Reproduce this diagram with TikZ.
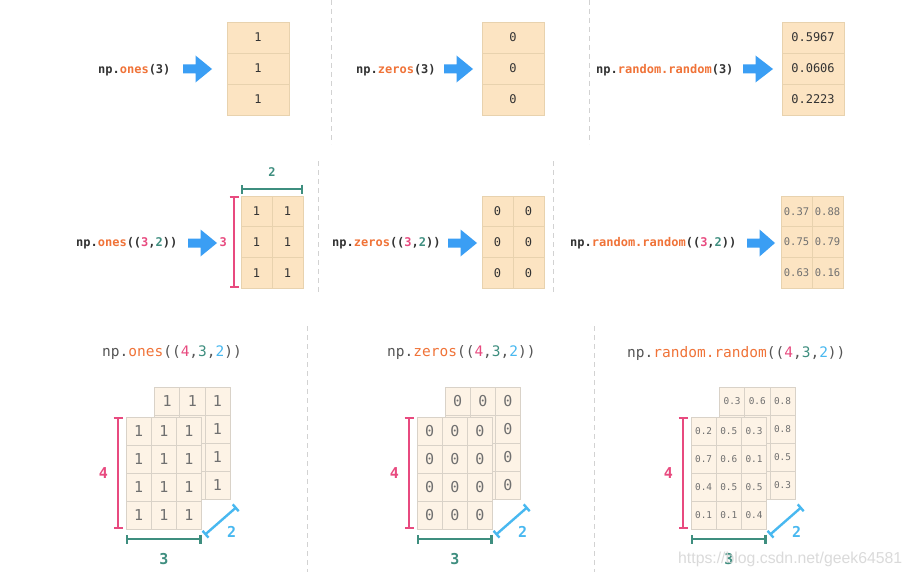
\documentclass[tikz,border=0pt]{standalone}
\usepackage{fontspec}
\setmainfont{Liberation Sans}
\setmonofont{DejaVu Sans Mono}
\usetikzlibrary{arrows.meta}
\definecolor{cellfill}{HTML}{FCE4C2}
\definecolor{cellline}{HTML}{E8D2AE}
\definecolor{cubefill}{HTML}{FDF3E6}
\definecolor{cubeline}{HTML}{D9D2C8}
\definecolor{darktext}{HTML}{333333}
\definecolor{graytext}{HTML}{555555}
\definecolor{celltext}{HTML}{707070}
\definecolor{fnorange}{HTML}{F07338}
\definecolor{dimpink}{HTML}{E84A7F}
\definecolor{dimteal}{HTML}{3E8E7F}
\definecolor{dimblue}{HTML}{48B8F0}
\definecolor{arrowblue}{HTML}{3A9EF4}
\definecolor{sepgray}{HTML}{D2D2D2}
\definecolor{wmgray}{HTML}{D4D4D4}

\newcommand{\fnname}[1]{\textcolor{fnorange}{#1}}
\newcommand{\cpink}[1]{\textcolor{dimpink}{#1}}
\newcommand{\cteal}[1]{\textcolor{dimteal}{#1}}
\newcommand{\cblue}[1]{\textcolor{dimblue}{#1}}

% #1 prefix, #2 x0, #3 y0, #4 cell width, #5 cell height, #6 style, #7 rows
\newcommand{\cellgrid}[7]{%
  \foreach \rw [count=\i] in {#7} {
    \foreach \v [count=\j] in \rw {
      \node[#6, minimum width=#4pt, minimum height=#5pt] (#1-\i-\j) at ({#2+(\j-1)*#4},{#3+(\i-1)*#5}) {\v};
    }
  }}

% block arrow: #1 x start, #2 x tip, #3 y centre
\newcommand{\bigarrow}[3]{%
  \fill[arrowblue] ({#1},{#3-4.5}) -- ({#1+12.5},{#3-4.5}) -- ({#1+12.5},{#3-13.5})
    -- ({#2},{#3}) -- ({#1+12.5},{#3+13.5}) -- ({#1+12.5},{#3+4.5}) -- ({#1},{#3+4.5}) -- cycle;}

\tikzset{
  code/.style={font=\ttfamily\bfseries\fontsize{12}{14}\selectfont, text=darktext, anchor=west, inner sep=0},
  bigcode/.style={font=\ttfamily\fontsize{14.5}{17}\selectfont, text=graytext, anchor=west, inner sep=0},
  cellA/.style={draw=cellline, fill=cellfill, anchor=north west, inner sep=0, outer sep=0, line width=0.8pt,
    font=\ttfamily\fontsize{12}{14}\selectfont, text=darktext},
  cellB/.style={cellA, font=\ttfamily\fontsize{10.5}{12}\selectfont, text=celltext},
  cubecell/.style={draw=cubeline, fill=cubefill, anchor=north west, inner sep=0, outer sep=0, line width=0.8pt,
    font=\ttfamily\fontsize{15}{17}\selectfont, text=celltext},
  cubesmall/.style={cubecell, font=\ttfamily\fontsize{9.4}{11}\selectfont},
  dimbar/.style={line width=2.4pt, draw=#1, {Bar[width=9pt]}-{Bar[width=9pt]}},
  dimlabel/.style={inner sep=0, font=\ttfamily\bfseries\fontsize{15}{17}\selectfont, text=#1},
  smalllabel/.style={inner sep=0, font=\ttfamily\bfseries\fontsize{12}{14}\selectfont, text=#1},
  sep/.style={draw=sepgray, line width=1pt, dash pattern=on 5pt off 4pt},
}

\begin{document}
\begin{tikzpicture}[x=1pt, y=-1pt]
\useasboundingbox (0,0) rectangle (910,578);
\fill[white] (0,0) rectangle (910,578);

% separators
\draw[sep] (331,0) -- (331,144);
\draw[sep] (589,0) -- (589,144);
\draw[sep] (318,161) -- (318,294);
\draw[sep] (553,161) -- (553,294);
\draw[sep] (307,326) -- (307,572);
\draw[sep] (594,326) -- (594,572);

% ---------- row 1 ----------
\node[code] (t11) at (98,70) {np.\fnname{ones}(3)};
\bigarrow{183}{212}{69}
\cellgrid{a11}{227}{22}{62}{31}{cellA}{{1},{1},{1}}

\node[code] (t12) at (356,70) {np.\fnname{zeros}(3)};
\bigarrow{444}{473}{69}
\cellgrid{a12}{482}{22}{62}{31}{cellA}{{0},{0},{0}}

\node[code] (t13) at (596,70) {np.\fnname{random.random}(3)};
\bigarrow{743}{773}{69}
\cellgrid{a13}{782}{22}{62}{31}{cellA}{{0.5967},{0.0606},{0.2223}}

% ---------- row 2 ----------
\node[code] (t21) at (76,243) {np.\fnname{ones}((\cpink{3},\cteal{2}))};
\bigarrow{188}{217}{243}
\cellgrid{a21}{241}{196}{31}{30.67}{cellA}{{1,1},{1,1},{1,1}}
\draw[dimbar=dimpink] ([xshift=-7pt]a21-1-1.north west) --
  node[midway, left=6pt, smalllabel=dimpink] (l21a) {3} ([xshift=-7pt]a21-3-1.south west);
\draw[dimbar=dimteal] ([yshift=7pt]a21-1-1.north west) --
  node[midway, above=11pt, smalllabel=dimteal] (l21b) {2} ([yshift=7pt]a21-1-2.north east);

\node[code] (t22) at (332,243) {np.\fnname{zeros}((\cpink{3},\cteal{2}))};
\bigarrow{448}{477}{243}
\cellgrid{a22}{482}{196}{31}{30.67}{cellA}{{0,0},{0,0},{0,0}}

\node[code] (t23) at (570,243) {np.\fnname{random.random}((\cpink{3},\cteal{2}))};
\bigarrow{747}{775}{243}
\cellgrid{a23}{781}{196}{31}{30.67}{cellB}{{0.37,0.88},{0.75,0.79},{0.63,0.16}}

% ---------- row 3 ----------
\node[bigcode] (t31) at (102,353) {np.\fnname{ones}((\cpink{4},\cteal{3},\cblue{2}))};
\cellgrid{c1b}{154.5}{387}{25.2}{28}{cubecell}{{1,1,1},{{},{},1},{{},{},1},{{},{},1}}
\cellgrid{c1f}{126}{417}{25.2}{28}{cubecell}{{1,1,1},{1,1,1},{1,1,1},{1,1,1}}

\node[bigcode] (t32) at (387,353) {np.\fnname{zeros}((\cpink{4},\cteal{3},\cblue{2}))};
\cellgrid{c2b}{445}{387}{25.2}{28}{cubecell}{{0,0,0},{{},{},0},{{},{},0},{{},{},0}}
\cellgrid{c2f}{417}{417}{25.2}{28}{cubecell}{{0,0,0},{0,0,0},{0,0,0},{0,0,0}}

\node[bigcode] (t33) at (627,353) {np.\fnname{random.random}((\cpink{4},\cteal{3},\cblue{2}))};
\cellgrid{c3b}{719.5}{387}{25.2}{28}{cubesmall}{{0.3,0.6,0.8},{{},{},0.8},{{},{},0.5},{{},{},0.3}}
\cellgrid{c3f}{691}{417}{25.2}{28}{cubesmall}{{0.2,0.5,0.3},{0.7,0.6,0.1},{0.4,0.5,0.5},{0.1,0.1,0.4}}

% dimension bars row 3
\foreach \c in {c1f,c2f,c3f} {
  \draw[dimbar=dimpink] ([xshift=-8pt]\c-1-1.north west) --
    node[midway, left=9pt, dimlabel=dimpink] {4} ([xshift=-8pt]\c-4-1.south west);
  \draw[dimbar=dimteal] ([yshift=-10pt]\c-4-1.south west) --
    node[midway, below=13pt, dimlabel=dimteal] {3} ([yshift=-10pt]\c-4-3.south east);
  \draw[dimbar=dimblue] ([xshift=3pt,yshift=-6pt]\c-4-3.south east) --
    node[midway, xshift=11pt, yshift=-11pt, dimlabel=dimblue] {2} ([xshift=35pt,yshift=22pt]\c-4-3.south east);
}

% watermark
\node[anchor=west, inner sep=0, font=\fontsize{15.8}{18}\selectfont, text=wmgray, opacity=0.85] (wm) at (678,559) {https://blog.csdn.net/geek64581};
\end{tikzpicture}
\end{document}
